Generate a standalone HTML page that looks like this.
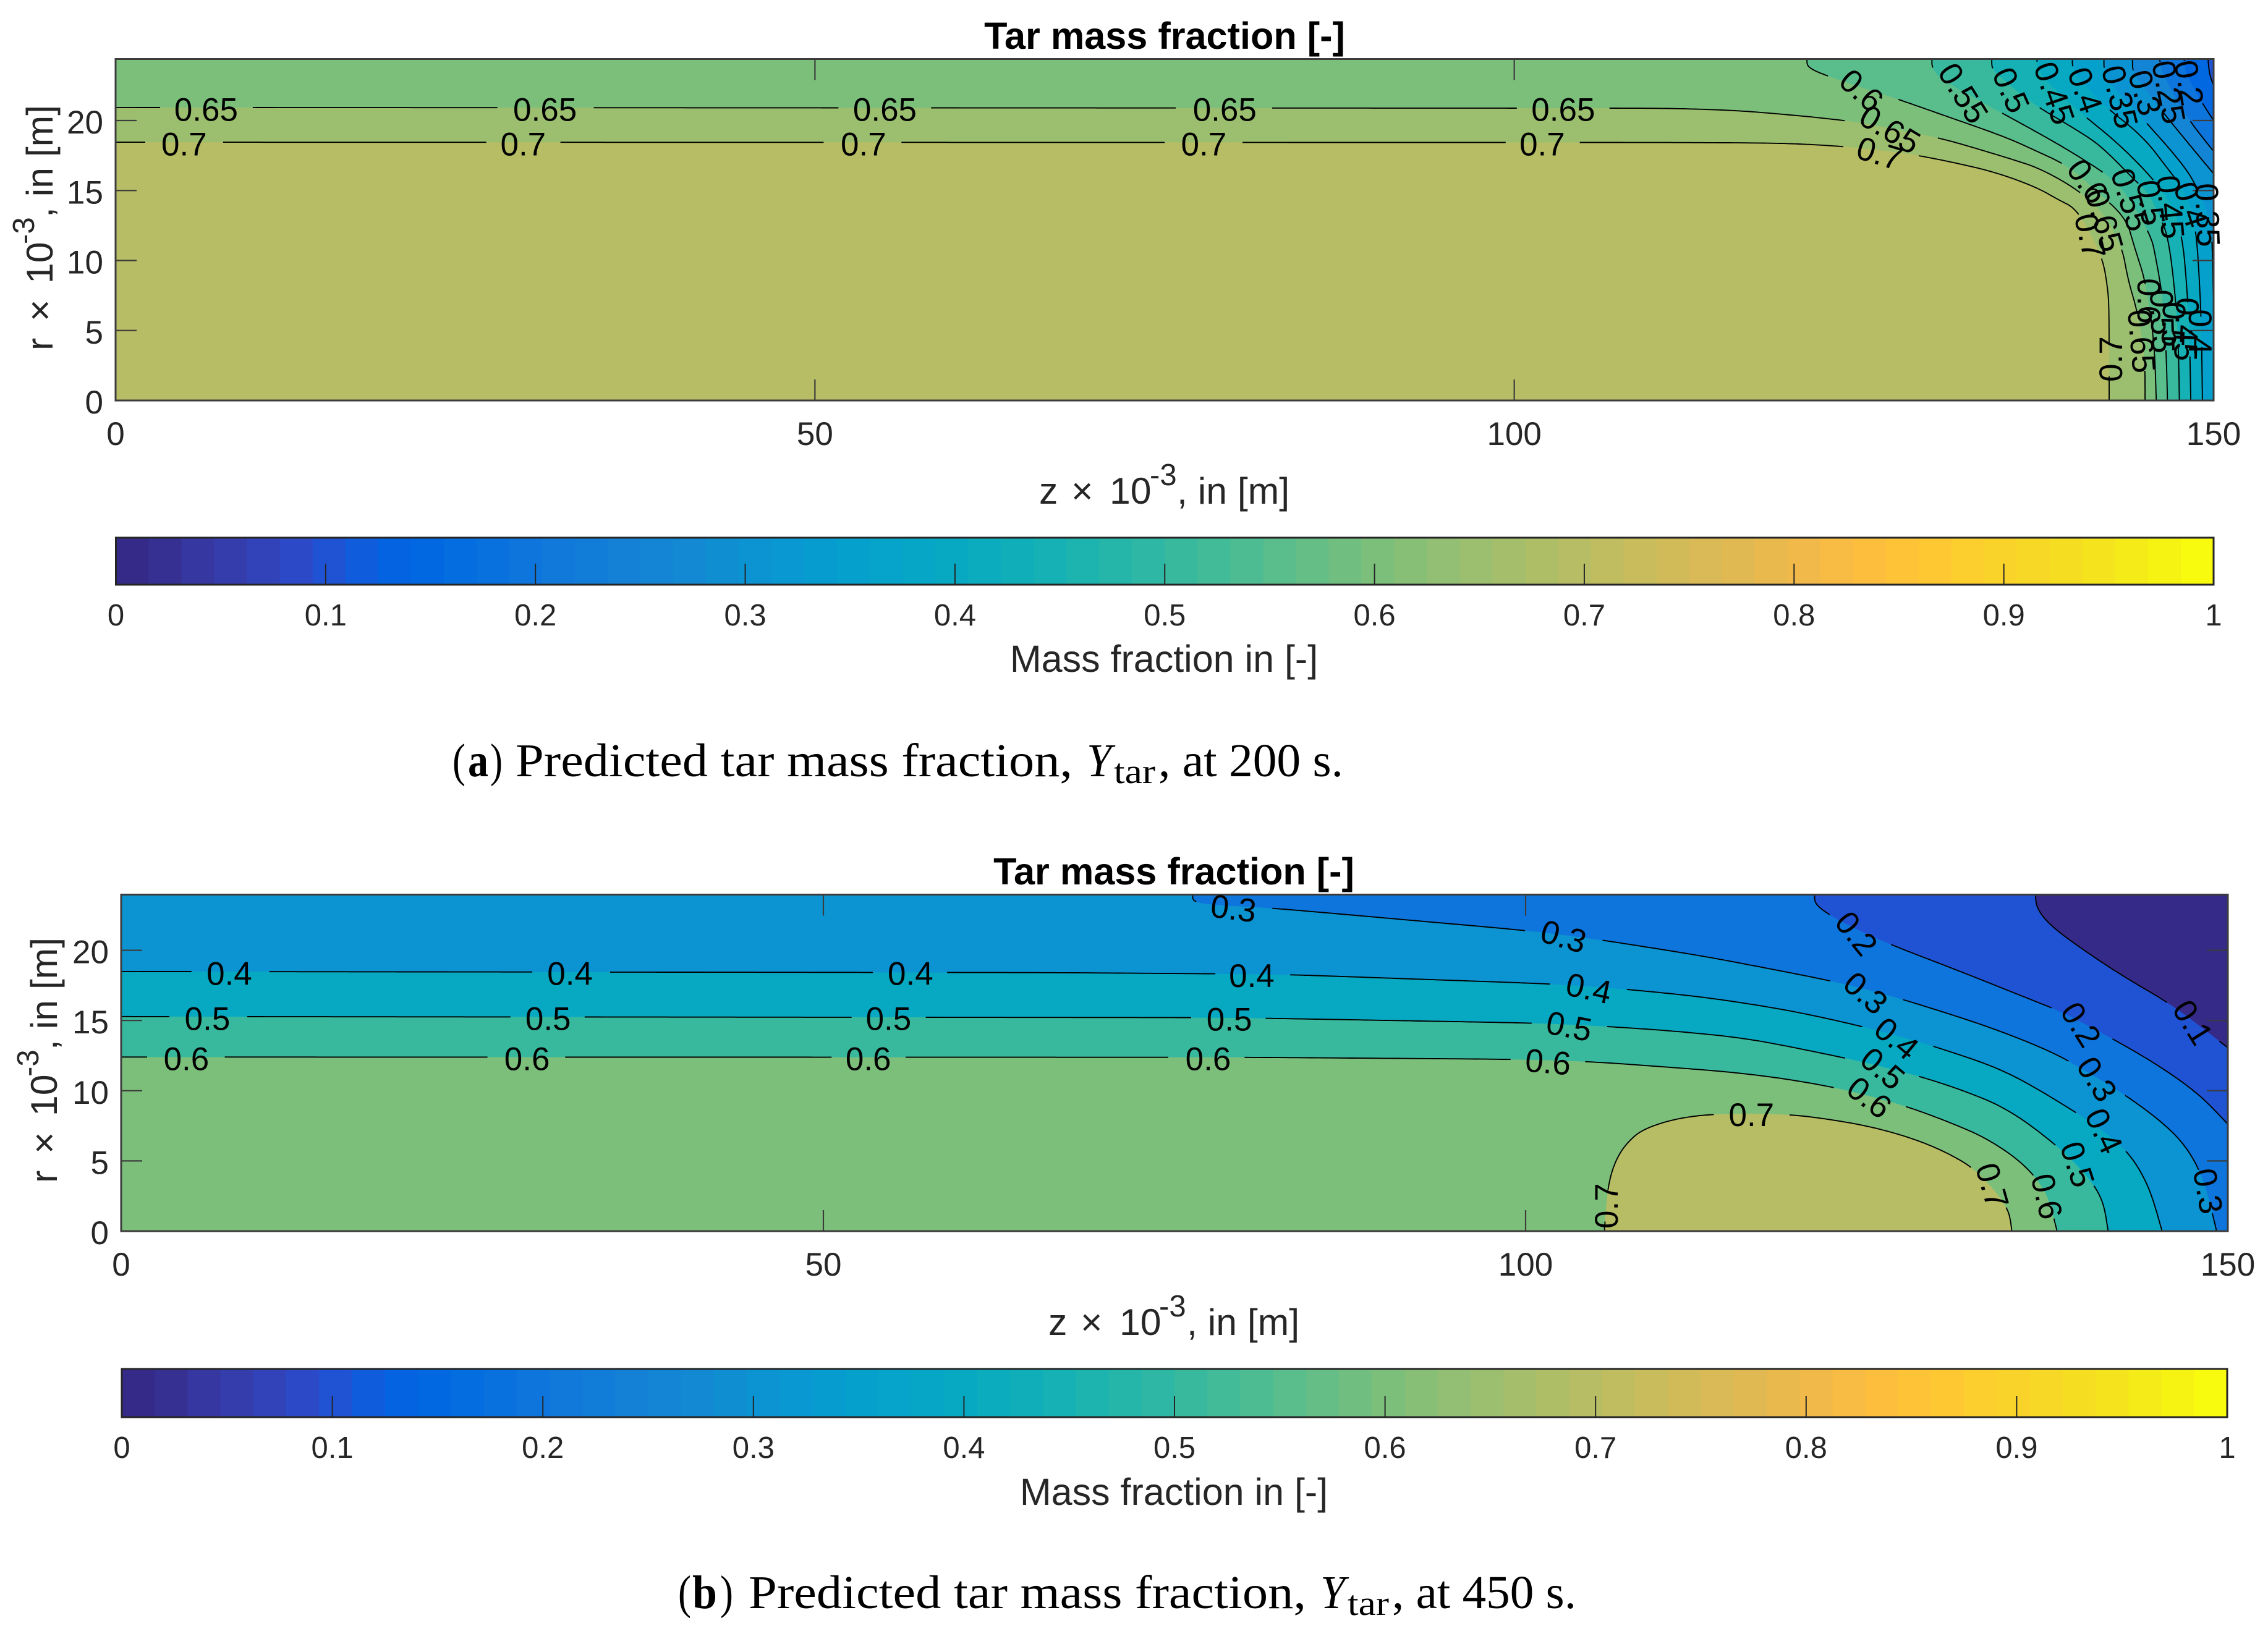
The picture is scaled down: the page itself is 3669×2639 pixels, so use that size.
<!DOCTYPE html>
<html lang="en">
<head>
<meta charset="utf-8">
<title>Predicted tar mass fraction</title>
<style>
html,body{margin:0;padding:0;background:#fff;}
svg{display:block;}
text{font-family:"Liberation Sans",Arial,sans-serif;fill:#262626;}
.title{font-size:61.2px;font-weight:bold;fill:#000;text-anchor:middle;}
.axlab{font-size:60.7px;}
.sup{font-size:49px;}
.cbtitle{font-size:61px;text-anchor:middle;}
.cap{font-family:"Liberation Serif",serif;font-size:76px;fill:#000;}
.capsub{font-family:"Liberation Serif",serif;font-size:56px;fill:#000;}
</style>
</head>
<body>
<svg id="chart" xmlns="http://www.w3.org/2000/svg" width="3669" height="2639" viewBox="0 0 3669 2639">
<rect x="0" y="0" width="3669" height="2639" fill="#fff"/>
<g id="panelA"></g>
<g id="panelB"></g>

<text class="title" x="1884" y="79">Tar mass fraction [-]</text>
<text class="axlab" y="815"><tspan x="1681">z</tspan><tspan x="1733">×</tspan><tspan x="1795">10</tspan><tspan class="sup" x="1860" dy="-30">-3</tspan><tspan x="1904" dy="30">, in [m]</tspan></text>
<text class="axlab" transform="translate(85,567) rotate(-90)" y="0"><tspan x="0">r</tspan><tspan x="47">×</tspan><tspan x="108">10</tspan><tspan class="sup" x="172" dy="-30">-3</tspan><tspan x="215" dy="30">, in [m]</tspan></text>
<text class="cbtitle" x="1883" y="1087">Mass fraction in [-]</text>

<g>
<text class="cap" x="732" y="1256" textLength="21" lengthAdjust="spacingAndGlyphs">(</text>
<text class="cap" x="757" y="1256" font-weight="bold" textLength="33" lengthAdjust="spacingAndGlyphs">a</text>
<text class="cap" x="793" y="1256" textLength="20" lengthAdjust="spacingAndGlyphs">)</text>
<text class="cap" x="834" y="1256" textLength="901" lengthAdjust="spacingAndGlyphs">Predicted tar mass fraction,</text>
<text class="cap" x="1758" y="1256" font-style="italic" textLength="40" lengthAdjust="spacingAndGlyphs">Y</text>
<text class="capsub" x="1802" y="1267" textLength="67" lengthAdjust="spacingAndGlyphs">tar</text>
<text class="cap" x="1874" y="1256" textLength="299" lengthAdjust="spacingAndGlyphs">, at 200 s.</text>
</g>

<text class="title" x="1899" y="1431">Tar mass fraction [-]</text>
<text class="axlab" y="2160"><tspan x="1696">z</tspan><tspan x="1748">×</tspan><tspan x="1811">10</tspan><tspan class="sup" x="1875" dy="-30">-3</tspan><tspan x="1920" dy="30">, in [m]</tspan></text>
<text class="axlab" transform="translate(92,1914) rotate(-90)" y="0"><tspan x="0">r</tspan><tspan x="47">×</tspan><tspan x="108">10</tspan><tspan class="sup" x="172" dy="-30">-3</tspan><tspan x="215" dy="30">, in [m]</tspan></text>
<text class="cbtitle" x="1899" y="2435">Mass fraction in [-]</text>

<g>
<text class="cap" x="1097" y="2602" textLength="21" lengthAdjust="spacingAndGlyphs">(</text>
<text class="cap" x="1120" y="2602" font-weight="bold" textLength="40" lengthAdjust="spacingAndGlyphs">b</text>
<text class="cap" x="1165" y="2602" textLength="21" lengthAdjust="spacingAndGlyphs">)</text>
<text class="cap" x="1211" y="2602" textLength="902" lengthAdjust="spacingAndGlyphs">Predicted tar mass fraction,</text>
<text class="cap" x="2136" y="2602" font-style="italic" textLength="40" lengthAdjust="spacingAndGlyphs">Y</text>
<text class="capsub" x="2180" y="2613" textLength="67" lengthAdjust="spacingAndGlyphs">tar</text>
<text class="cap" x="2252" y="2602" textLength="298" lengthAdjust="spacingAndGlyphs">, at 450 s.</text>
</g>
</svg>

<script>
// ---------- colormap ----------
const parula = [
[.2081,.1663,.5292],[.2116,.1898,.5777],[.2123,.2138,.6270],[.2081,.2386,.6771],
[.1959,.2645,.7279],[.1707,.2919,.7792],[.1253,.3242,.8303],[.0591,.3598,.8683],
[.0117,.3875,.8820],[.0060,.4086,.8828],[.0165,.4266,.8786],[.0329,.4430,.8720],
[.0498,.4586,.8641],[.0629,.4737,.8554],[.0723,.4887,.8467],[.0779,.5040,.8384],
[.0793,.5200,.8312],[.0749,.5375,.8263],[.0641,.5570,.8240],[.0488,.5772,.8228],
[.0343,.5966,.8199],[.0265,.6137,.8135],[.0239,.6287,.8038],[.0231,.6418,.7913],
[.0228,.6535,.7768],[.0267,.6642,.7607],[.0384,.6743,.7436],[.0590,.6838,.7254],
[.0843,.6928,.7062],[.1133,.7015,.6859],[.1453,.7098,.6646],[.1801,.7177,.6424],
[.2178,.7250,.6193],[.2586,.7317,.5954],[.3022,.7376,.5712],[.3482,.7424,.5473],
[.3953,.7459,.5244],[.4420,.7481,.5033],[.4871,.7491,.4840],[.5300,.7491,.4661],
[.5709,.7485,.4494],[.6099,.7473,.4337],[.6473,.7456,.4188],[.6834,.7435,.4044],
[.7184,.7411,.3905],[.7525,.7384,.3768],[.7858,.7356,.3633],[.8185,.7327,.3498],
[.8507,.7299,.3360],[.8824,.7274,.3217],[.9139,.7258,.3063],[.9450,.7261,.2886],
[.9739,.7314,.2666],[.9938,.7455,.2403],[.9990,.7653,.2164],[.9955,.7861,.1967],
[.9880,.8066,.1794],[.9789,.8271,.1633],[.9697,.8481,.1475],[.9626,.8705,.1309],
[.9589,.8949,.1132],[.9598,.9218,.0948],[.9661,.9514,.0755],[.9763,.9831,.0538]];

// ---------- axis ticks ----------
const xTickValues = [0, 50, 100, 150];
const yTickValues = [0, 5, 10, 15, 20];
const colorbarTickValues = [0, 0.1, 0.2, 0.3, 0.4, 0.5, 0.6, 0.7, 0.8, 0.9, 1];

// ---------- panel (a) contour lines, [z, r] in data units ----------
const contourA015 = [[149.6,24.4],[149.7,23.3],[150,22.5]];
const contourA020 = [[147.9,24.4],[147.9,23.62],[148.9,21.69],[150,20.0]];
const contourA025 = [[146.14,24.4],[146.3,23.4],[148.07,20.22],[150,17.8]];
const contourA030 = [[144.2,24.4],[144.2,23.62],[144.54,22.96],[146.84,20.0],[150,16.2]];
const contourA035 = [[142.16,24.4],[142.16,23.62],[142.5,22.73],[144.78,20.31],[147.87,16.82],[148.9,15.07],[149.63,13.29],[149.9,11.83],[150,6]];
const contourA040 = [[139.9,24.4],[139.9,23.62],[141.98,21.19],[144.93,18.9],[146.84,16.4],[148.0,14.92],[148.76,12.42],[149.12,6.09],[149.2,0]];
const contourA045 = [[137.37,24.4],[137.4,23.46],[140.07,20.88],[143.45,18.16],[146.5,14.92],[147.73,12.27],[148.17,7.12],[148.31,3.31],[148.37,0]];
const contourA050 = [[134.14,24.4],[134.14,23.75],[134.6,23.24],[136.9,21.28],[140.2,19.34],[141.98,18.16],[144.3,15.8],[145.37,14.79],[146.0,13.38],[146.75,11.83],[147.31,7.12],[147.5,3.31],[147.55,0]];
const contourA055 = [[129.86,24.4],[129.86,23.76],[130.57,22.9],[134.03,20.99],[136.81,19.48],[139.64,17.88],[142.55,16.03],[143.75,14.79],[145.51,11.83],[145.87,10.2],[146.4,7.11],[146.62,3.31],[146.7,0]];
const contourA060 = [[120.93,24.4],[120.93,23.76],[123.07,22.93],[127.02,21.67],[130.71,20.37],[135.08,18.84],[137.27,17.85],[139.59,16.77],[141.6,15.0],[143.75,13.02],[144.3,11.08],[145.2,8.3],[145.78,3.9],[145.9,0]];
const contourA065 = [[0,20.93],[111.05,20.88],[116.5,20.7],[124.16,19.98],[129.97,18.86],[132.35,18.21],[135.63,17.22],[137.54,16.59],[140.0,15.24],[141.9,13.7],[143.44,11.08],[143.88,8.61],[144.54,6.4],[145.09,3.31],[145.1,0]];
const contourA070 = [[0,18.45],[111.05,18.43],[119.24,18.39],[123.47,18.16],[126.34,17.85],[128.53,17.58],[132.35,16.81],[134.81,16.17],[137.4,15.2],[138.9,14.34],[140.0,13.8],[140.8,12.62],[142.04,10.28],[142.45,7.94],[142.53,6.14],[142.53,0]];
const contourLevelsA = [0.15,0.2,0.25,0.3,0.35,0.4,0.45,0.5,0.55,0.6,0.65,0.7];
const contourLinesA = [contourA015,contourA020,contourA025,contourA030,contourA035,contourA040,contourA045,contourA050,contourA055,contourA060,contourA065,contourA070];
// [level, z, r, text angle]
const contourLabelsA = [
[0.65,6.47,20.79,0],[0.65,30.7,20.79,0],[0.65,55,20.79,0],[0.65,79.3,20.79,0],[0.65,103.5,20.79,0],
[0.7,4.9,18.32,0],[0.7,29.14,18.32,0],[0.7,53.47,18.32,0],[0.7,77.8,18.32,0],[0.7,102,18.32,0],
[0.6,124.83,22.16,42],[0.65,126.87,19.38,31],[0.7,126.12,17.66,17],
[0.55,132.11,21.96,58],[0.5,135.53,22.18,66],[0.45,138.62,21.96,71],[0.4,140.83,22.18,71],
[0.35,143.31,21.69,76],[0.3,145.1,21.99,74],[0.25,146.8,22.03,79],[0.2,148.25,22.69,80],
[0.6,141.0,15.67,55],[0.65,142.2,12.89,74],[0.7,141.18,11.74,77],
[0.55,144.06,14.35,73],[0.5,145.52,14.13,82],[0.45,146.93,13.82,85],[0.4,148.39,14.0,72],[0.35,149.58,13.25,88],
[0.7,142.65,2.96,-90],[0.65,144.86,4.24,85],[0.6,145.38,7.11,90],[0.55,146.35,5.65,88],
[0.5,147.15,5.43,92],[0.45,148.08,5.08,92],[0.4,149.05,4.9,90]];

// ---------- panel (b) contour lines, [z, r] in data units ----------
const contourB010 = [[136.3,24],[136.36,23.08],[137.18,21.93],[139.15,20.41],[142.43,18.21],[146.21,16.02],[150,13.06]];
const contourB020 = [[120.58,24],[120.58,23.27],[122.09,22.22],[125.37,20.64],[130.95,18.5],[136.2,16.4],[138,15.69],[141.28,14.0],[145.06,11.82],[148.01,9.72],[150,7.62]];
const contourB030 = [[76.3,24],[76.3,23.3],[81.86,23.02],[100.31,21.39],[105.35,20.75],[112.9,19.55],[122.08,17.77],[126.5,16.63],[132.92,14.59],[137.51,12.77],[139.8,11.44],[142.1,10.1],[145.06,8.0],[147.03,6.09],[148.34,3.61],[149.2,0]];
const contourB040 = [[0,18.49],[66.2,18.41],[77.8,18.33],[83.13,18.27],[102.08,17.6],[107.32,17.22],[112.9,16.65],[118.8,15.73],[124.38,14.49],[128.65,13.31],[134.23,11.44],[139.81,8.1],[142.76,5.9],[144.4,3.23],[145.32,0]];
const contourB050 = [[0,15.28],[76.3,15.21],[81.6,15.16],[100.56,14.82],[105.68,14.59],[111.26,14.2],[116.18,13.67],[123.4,12.2],[127.66,11.15],[130.95,10.1],[134.23,8.77],[137.51,6.38],[139.81,4.18],[141.12,2.27],[141.48,0]];
const contourB060 = [[0,12.4],[80.1,12.38],[99.04,12.24],[104.36,12.09],[109.61,11.72],[114.54,11.34],[118.47,10.86],[122.41,10.16],[126.68,9.05],[130.29,7.72],[132.92,6.57],[135.54,4.76],[137.18,2.66],[137.84,0]];
const contourB070 = [[105.61,0],[105.84,3.23],[106.5,5.33],[107.65,6.76],[108.8,7.43],[110.93,8.06],[113.55,8.36],[118.7,8.35],[122.41,7.85],[125.04,7.33],[127.66,6.57],[129.96,5.62],[132.1,4.37],[134.4,1.7],[134.62,0]];
const contourLevelsB = [0.1,0.2,0.3,0.4,0.5,0.6,0.7];
const contourLinesB = [contourB010,contourB020,contourB030,contourB040,contourB050,contourB060,contourB070];
const contourLabelsB = [
[0.4,7.7,18.36,0],[0.4,31.96,18.36,0],[0.4,56.2,18.36,0],[0.4,80.5,18.2,0],
[0.5,6.14,15.15,0],[0.5,30.4,15.15,0],[0.5,54.64,15.15,0],[0.5,78.9,15.1,0],
[0.6,4.64,12.27,0],[0.6,28.9,12.27,0],[0.6,53.2,12.27,0],[0.6,77.4,12.27,0],
[0.6,101.6,12.06,5],[0.5,103.1,14.6,11],[0.4,104.5,17.3,12],[0.3,102.7,21.0,16],[0.3,79.2,23.0,7],
[0.2,123.56,21.21,51],[0.3,124.22,16.97,41],[0.4,126.42,13.73,40],[0.5,125.43,11.59,40],[0.6,124.48,9.53,38],
[0.7,116.08,8.29,0],[0.7,105.74,1.8,-90],[0.7,133.24,3.23,74],[0.6,137.12,2.47,77],
[0.5,139.3,4.76,72],[0.4,141.19,7.14,65],[0.3,140.69,10.83,58],[0.2,139.55,14.72,58],[0.1,147.52,14.87,58],[0.3,148.6,2.85,80]];

const SVGNS = 'http://www.w3.org/2000/svg';
function mk(tag, attrs, parent) {
  const el = document.createElementNS(SVGNS, tag);
  for (const k in attrs) el.setAttribute(k, attrs[k]);
  parent.appendChild(el);
  return el;
}
function levelColor(v) {
  const i = Math.min(parula.length - 1, Math.floor(v * parula.length));
  const c = parula[i];
  return 'rgb(' + Math.round(c[0]*255) + ',' + Math.round(c[1]*255) + ',' + Math.round(c[2]*255) + ')';
}
function labelWidth(txt, size) {
  let w = 0;
  for (const ch of txt) w += (ch === '.') ? 0.278 : 0.556;
  return w * size;
}
// Corner-cutting smoother working in screen space; long straight runs only lose a short stub.
function smoothScreen(pts, X, Y) {
  let cur = pts.map(p => [X(p[0]), Y(p[1])]);
  for (let it = 0; it < 3; it++) {
    const next = [cur[0]];
    for (let i = 1; i < cur.length - 1; i++) {
      const a = cur[i-1], p = cur[i], b = cur[i+1];
      const la = Math.hypot(a[0]-p[0], a[1]-p[1]) || 1;
      const lb = Math.hypot(b[0]-p[0], b[1]-p[1]) || 1;
      const ta = Math.min(0.25, 30 / la), tb = Math.min(0.25, 30 / lb);
      next.push([p[0] + (a[0]-p[0]) * ta, p[1] + (a[1]-p[1]) * ta]);
      next.push([p[0] + (b[0]-p[0]) * tb, p[1] + (b[1]-p[1]) * tb]);
    }
    next.push(cur[cur.length - 1]);
    cur = next;
  }
  return cur;
}
function fillPath(pts, X, Y, yMax) {
  const out = smoothScreen(pts, X, Y);
  const first = pts[0], last = pts[pts.length - 1];
  if (first[1] !== 0) {
    if (last[1] !== 0) out.push([X(last[0]), Y(0)]);
    out.push([X(0), Y(0)]);
    if (first[0] > 0) out.push([X(0), Y(yMax)]);
  }
  return 'M' + out.map(p => p[0].toFixed(1) + ' ' + p[1].toFixed(1)).join('L') + 'Z';
}
function linePath(pts, labels, X, Y, labelSize) {
  const boxes = labels.map(l => {
    const ca = Math.cos(l[3] * Math.PI / 180), sa = Math.sin(l[3] * Math.PI / 180);
    return {
      cx: X(l[1]), cy: Y(l[2]), ca: ca, sa: sa,
      hw: labelWidth(String(l[0]), labelSize) / 2 - 13 + 35 * Math.pow(Math.abs(ca), 0.7)
    };
  });
  const screen = smoothScreen(pts, X, Y);
  let d = '', pen = false;
  for (let i = 0; i < screen.length - 1; i++) {
    const x0 = screen[i][0], y0 = screen[i][1], x1 = screen[i+1][0], y1 = screen[i+1][1];
    const n = Math.max(1, Math.ceil(Math.hypot(x1 - x0, y1 - y0) / 6));
    for (let k = 0; k <= n; k++) {
      const px = x0 + (x1 - x0) * k / n, py = y0 + (y1 - y0) * k / n;
      const hidden = boxes.some(b => {
        const dx = px - b.cx, dy = py - b.cy;
        return Math.abs(dx * b.ca + dy * b.sa) < b.hw && Math.abs(-dx * b.sa + dy * b.ca) < 34;
      });
      if (hidden) { pen = false; continue; }
      d += (pen ? 'L' : 'M') + px.toFixed(1) + ' ' + py.toFixed(1);
      pen = true;
    }
  }
  return d;
}

function drawPanel(root, id, box, yMax, baseLevel, levels, lines, labels, cb) {
  const X = z => box.left + z / 150 * (box.right - box.left);
  const Y = r => box.bottom - r * box.pxPerR;
  const CX = v => cb.left + v * (cb.right - cb.left);
  const defs = mk('defs', {}, root);
  const clip = mk('clipPath', {id: id + 'clip'}, defs);
  mk('rect', {x: box.left, y: box.top, width: box.right - box.left, height: box.bottom - box.top}, clip);

  const fills = mk('g', {'clip-path': 'url(#' + id + 'clip)'}, root);
  
  
  const base = mk('rect', {x: box.left, y: box.top, width: box.right - box.left, height: box.bottom - box.top, fill: levelColor(baseLevel)}, fills);
  
  
  levels.forEach((lv, i) => {
    const band = mk('path', {d: fillPath(lines[i], X, Y, yMax), fill: levelColor(lv)}, fills);
    
    
  });

  const cl = mk('g', {'clip-path': 'url(#' + id + 'clip)', fill: 'none', stroke: '#000', 'stroke-width': 1.9}, root);
  
  
  levels.forEach((lv, i) => {
    const own = labels.filter(l => l[0] === lv);
    const line = mk('path', {d: linePath(lines[i], own, X, Y, 53)}, cl);
    
    
  });

  const frame = mk('g', {stroke: '#3c3c3c', 'stroke-width': 2.2, fill: 'none'}, root);
  
  
  mk('rect', {x: box.left, y: box.top, width: box.right - box.left, height: box.bottom - box.top, 'stroke-width': 3}, frame);
  xTickValues.forEach(v => {
    const a = mk('line', {x1: X(v), x2: X(v), y1: box.bottom, y2: box.bottom - 34}, frame);
    
    
    const b = mk('line', {x1: X(v), x2: X(v), y1: box.top, y2: box.top + 34}, frame);
    
    
    const t = mk('text', {x: X(v), y: box.bottom + 72, 'font-size': 53, 'text-anchor': 'middle'}, root);
    t.textContent = String(v);
    
    
  });
  yTickValues.forEach(v => {
    const a = mk('line', {x1: box.left, x2: box.left + 34, y1: Y(v), y2: Y(v)}, frame);
    
    
    const b = mk('line', {x1: box.right, x2: box.right - 34, y1: Y(v), y2: Y(v)}, frame);
    
    
    const t = mk('text', {x: box.left - 20, y: Y(v) + 21, 'font-size': 53, 'text-anchor': 'end'}, root);
    t.textContent = String(v);
    
    
  });

  const lab = mk('g', {}, root);
  
  
  labels.forEach(l => {
    const x = X(l[1]), y = Y(l[2]);
    const t = mk('text', {x: x, y: y + 18.5, 'font-size': 53, 'text-anchor': 'middle', transform: 'rotate(' + l[3] + ' ' + x.toFixed(1) + ' ' + y.toFixed(1) + ')', style: 'fill:#000'}, lab);
    t.textContent = String(l[0]);
    
    
  });

  const bar = mk('g', {}, root);
  
  
  parula.forEach((c, i) => {
    const w = (cb.right - cb.left) / parula.length;
    const seg = mk('rect', {x: CX(i / parula.length), y: cb.top, width: w + 0.6, height: cb.bottom - cb.top, fill: levelColor(i / parula.length + 1e-6)}, bar);
    
    
  });
  mk('rect', {x: cb.left, y: cb.top, width: cb.right - cb.left, height: cb.bottom - cb.top, fill: 'none', stroke: '#262626', 'stroke-width': 3}, bar);
  colorbarTickValues.forEach(v => {
    const tick = mk('line', {x1: CX(v), x2: CX(v), y1: cb.bottom, y2: cb.bottom - 34, stroke: '#262626', 'stroke-width': 2}, bar);
    
    
    const t = mk('text', {x: CX(v), y: cb.bottom + 66, 'font-size': 49, 'text-anchor': 'middle'}, bar);
    t.textContent = String(v);
    
    
  });
}

drawPanel(document.getElementById('panelA'), 'a',
  {left: 187, right: 3581, top: 95.5, bottom: 648, pxPerR: 22.65}, 24.4, 0.1,
  contourLevelsA, contourLinesA, contourLabelsA,
  {left: 187.5, right: 3581, top: 870, bottom: 946});
drawPanel(document.getElementById('panelB'), 'b',
  {left: 196, right: 3604, top: 1447.5, bottom: 1992, pxPerR: 22.72}, 24, 0,
  contourLevelsB, contourLinesB, contourLabelsB,
  {left: 197, right: 3603, top: 2215, bottom: 2293});
</script>
</body>
</html>
